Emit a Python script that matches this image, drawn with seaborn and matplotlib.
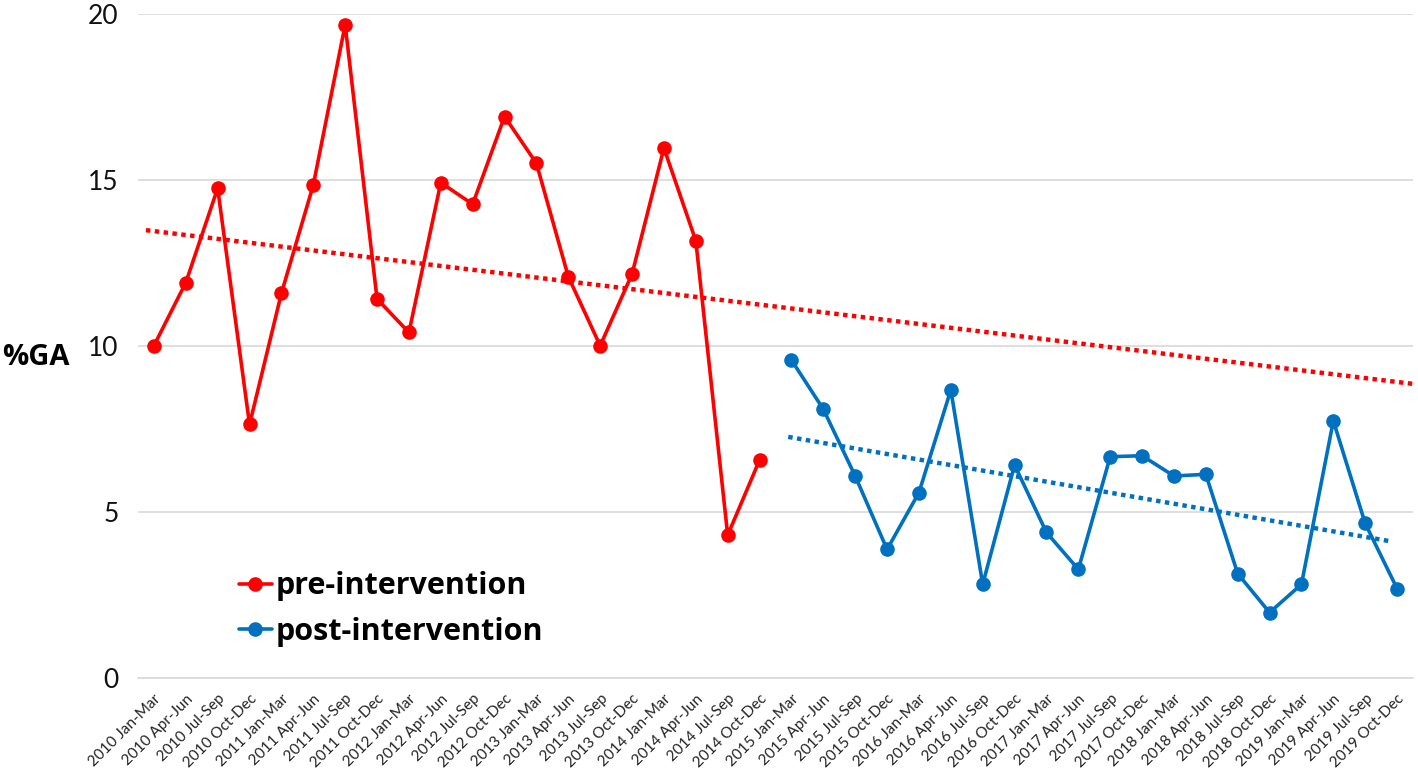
import numpy as np
import pandas as pd
import matplotlib
matplotlib.use("Agg")
import matplotlib.pyplot as plt
import seaborn as sns

# quarters 2010-2019
years = list(range(2010, 2020))
quarters = ["Jan-Mar", "Apr-Jun", "Jul-Sep", "Oct-Dec"]
labels = [f"{y} {q}" for y in years for q in quarters]

# %GA per quarter
pre_vals = [10.0, 11.9, 14.74, 7.63, 11.58, 14.84, 19.66, 11.41, 10.4, 14.91,
            14.26, 16.9, 15.49, 12.08, 10.0, 12.16, 15.95, 13.16, 4.3, 6.56]
post_vals = [9.57, 8.09, 6.08, 3.87, 5.58, 8.67, 2.82, 6.41, 4.38, 3.27,
             6.66, 6.69, 6.08, 6.13, 3.14, 1.97, 2.82, 7.74, 4.65, 2.69]

# linear trend values (at quarter index)
pre_trend_q = [0, 39]
pre_trend = [13.45, 8.91]
post_trend_q = [20, 39]
post_trend = [7.24, 4.08]

red = "#FF0000"
blue = "#0070C0"

pre_x = np.arange(len(pre_vals))
post_x = np.arange(len(pre_vals), len(pre_vals) + len(post_vals))
df_pre = pd.DataFrame({"x": pre_x, "GA": pre_vals})
df_post = pd.DataFrame({"x": post_x, "GA": post_vals})

sns.set_style("white")
plt.rcParams["font.family"] = ["Lato", "DejaVu Sans"]
plt.rcParams["text.color"] = "black"
plt.rcParams["xtick.color"] = "black"
plt.rcParams["ytick.color"] = "black"

fig = plt.figure(figsize=(14.18, 7.81), dpi=100)
ax = fig.add_axes([0.0973, 0.1319, 0.8992, 0.8508])

sns.lineplot(data=df_pre, x="x", y="GA", color=red, marker="o", markersize=10.5,
             markeredgewidth=0, linewidth=2.6, ax=ax, label="pre-intervention")
sns.lineplot(data=df_post, x="x", y="GA", color=blue, marker="o", markersize=10.5,
             markeredgewidth=0, linewidth=2.6, ax=ax, label="post-intervention")

# dotted trend lines; the pre trend runs over the whole period
k1, b1 = np.polyfit(pre_trend_q, pre_trend, 1)
tx1 = np.array([-0.25, len(labels) - 0.5])
ax.plot(tx1, k1 * tx1 + b1, color=red, linestyle=(0, (1, 1)), linewidth=3.2)
k2, b2 = np.polyfit(post_trend_q, post_trend, 1)
tx2 = np.array([post_trend_q[0] - 0.1, post_trend_q[1] - 0.25])
ax.plot(tx2, k2 * tx2 + b2, color=blue, linestyle=(0, (1, 1)), linewidth=3.2)

ax.set_xlim(-0.5, len(labels) - 0.5)
ax.set_ylim(0, 20)
ax.set_yticks([0, 5, 10, 15, 20])
ax.tick_params(axis="y", labelsize=19, length=0, pad=14, labelcolor="#111111")
ax.yaxis.grid(True, color="#D9D9D9", linewidth=1.2)

ax.set_xticks(np.arange(len(labels)))
ax.set_xticklabels(labels, rotation=45, ha="right", rotation_mode="anchor", fontsize=11)
ax.tick_params(axis="x", which="major", length=0, pad=10, labelcolor="#222222")
ax.set_xticks(np.arange(len(labels) + 1) - 0.5, minor=True)
ax.tick_params(axis="x", which="minor", length=5, color="#D9D9D9", width=1.2)

for s in ["top", "right", "left"]:
    ax.spines[s].set_visible(False)
ax.spines["bottom"].set_color("#D9D9D9")
ax.spines["bottom"].set_linewidth(1.2)

ax.set_xlabel("")
ax.set_ylabel("%GA", fontsize=21, fontweight="bold", rotation=0, color="black",
              family=["Open Sans", "DejaVu Sans"], ha="center", va="center")
ax.yaxis.set_label_coords(-0.080, 0.482)

leg = ax.legend(loc="lower left", bbox_to_anchor=(0.058, 0.005), frameon=False,
                handlelength=1.05, handletextpad=0.15, labelspacing=0.52,
                prop={"size": 22, "weight": "bold", "family": ["Open Sans", "DejaVu Sans"]})

fig.savefig("out.png", dpi=100)
